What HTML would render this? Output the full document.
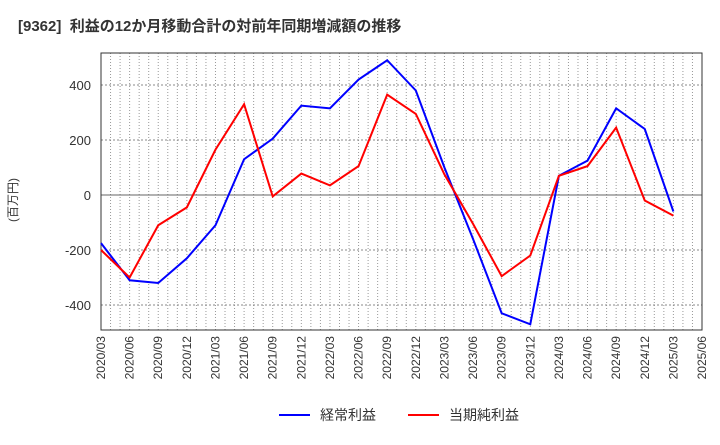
<!DOCTYPE html>
<html><head><meta charset="utf-8"><style>
body{margin:0;background:#fff;font-family:"Liberation Sans","Noto Sans CJK JP",sans-serif}
</style></head><body>
<svg id="c" width="720" height="440" xmlns="http://www.w3.org/2000/svg">
<text x="18" y="31" font-size="15" font-weight="bold" fill="#333" xml:space="preserve" style="white-space:pre">[9362]  利益の12か月移動合計の対前年同期増減額の推移</text>
<text transform="translate(17,200) rotate(-90)" font-size="12" fill="#333" text-anchor="middle">(百万円)</text>
<g id="grid"></g><g id="axes"></g><g id="series"></g>
<g>
<line x1="279" y1="415" x2="310" y2="415" stroke="#0000ff" stroke-width="2"/>
<text x="320" y="420" font-size="14" fill="#333">経常利益</text>
<line x1="408" y1="415" x2="439" y2="415" stroke="#ff0000" stroke-width="2"/>
<text x="449" y="420" font-size="14" fill="#333">当期純利益</text>
</g>
</svg>
<script>
const categories=["2020/03","2020/06","2020/09","2020/12","2021/03","2021/06","2021/09","2021/12","2022/03","2022/06","2022/09","2022/12","2023/03","2023/06","2023/09","2023/12","2024/03","2024/06","2024/09","2024/12","2025/03","2025/06"];
const ordinary=[-175,-310,-320,-230,-110,130,205,325,315,420,490,380,100,-160,-430,-470,70,125,315,240,-60];
const net=[-200,-300,-110,-45,165,330,-5,78,35,105,365,295,75,-105,-295,-220,70,105,245,-20,-75];
const yTicks=[-400,-200,0,200,400];
const L=101,R=702,T=53,B=330,Y0=195,K=0.275;
const NS="http://www.w3.org/2000/svg";
const xs=i=>L+i*(R-L)/(categories.length-1);
const ys=v=>Y0-v*K;
function mk(t,a,p){const e=document.createElementNS(NS,t);for(const k in a)e.setAttribute(k,a[k]);p.appendChild(e);return e;}
const g=document.getElementById('grid'),ax=document.getElementById('axes'),s=document.getElementById('series');
const step=(R-L)/((categories.length-1)*3);
for(let m=1;m<(categories.length-1)*3;m++){const x=L+m*step;
const l=mk('line',{x1:x,x2:x,y1:T,y2:B,stroke:'#999','stroke-dasharray':'1,2','stroke-width':1},g);

}
yTicks.forEach(v=>{const y=ys(v);
const l=mk('line',{x1:L,x2:R,y1:y,y2:y,stroke:v===0?'#666':'#888','stroke-dasharray':v===0?'none':'2,2','stroke-width':1},g);


const t=mk('text',{x:L-10,y:y+5,'font-size':13,fill:'#333','text-anchor':'end'},ax);t.textContent=v;

});
const fr=mk('rect',{x:L,y:T,width:R-L,height:B-T,fill:'none',stroke:'#333','stroke-width':1},ax);


categories.forEach((c,i)=>{const x=xs(i);
const t=mk('text',{transform:`translate(${x+4},${B+6}) rotate(-90)`,'font-size':12,fill:'#333','text-anchor':'end'},ax);t.textContent=c;

});
function line(d,col,name){const p=mk('polyline',{points:d.map((v,i)=>xs(i)+','+ys(v)).join(' '),fill:'none',stroke:col,'stroke-width':2},s);

}
line(ordinary,'#0000ff','ordinary-profit-line');
line(net,'#ff0000','net-profit-line');
</script>
</body></html>
